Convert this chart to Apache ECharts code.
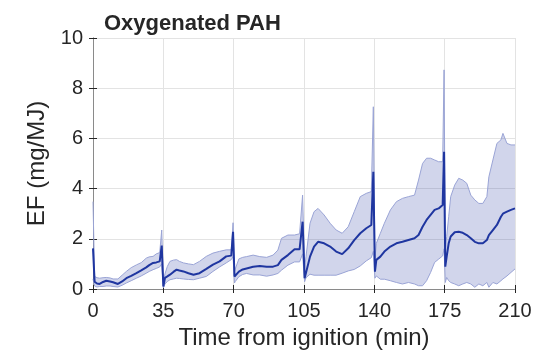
<!DOCTYPE html>
<html>
<head>
<meta charset="utf-8">
<script src="https://cdn.jsdelivr.net/npm/echarts@6/dist/echarts.min.js"></script>
<style>html,body{margin:0;padding:0;background:#fff}#c{width:539px;height:351px}</style>
</head>
<body>
<div id="c"></div>
<script>
// Time from ignition (min)
const time = [0,0.8,2,3.3,5,6.6,8.5,10,12.4,14.5,16.6,19,21.6,24,26.5,28,29.9,31.5,33.2,34.2,35,
  35.8,37,38.3,40,41.6,43,45,47.5,50,53,56.4,59.7,63,66.3,68.8,69.7,70.4,
  70.8,72.6,74.5,76.4,79.7,83,86.4,89.6,92,93.8,97,100.3,102.8,104.3,105.3,
  106,108,110,112,115,118,121,124,127,130,133,136,138.5,139.5,140.3,
  141,143,145,148,151,154,157,160,162,164,166,168,170,172,174,174.7,175.3,
  176,177,178,180,182,184,186,188,190,192,194,196,197,199,201,203,204,206,208,210];
// Mean EF (mg/MJ)
const meanEF = [1.62,0.29,0.22,0.2,0.28,0.33,0.3,0.27,0.2,0.3,0.43,0.52,0.63,0.74,0.86,0.95,1.04,1.06,1.1,1.73,0.1,
  0.44,0.5,0.57,0.68,0.77,0.74,0.7,0.63,0.57,0.63,0.8,0.97,1.1,1.3,1.33,2.28,0.5,
  0.49,0.69,0.78,0.82,0.89,0.92,0.89,0.89,0.95,1.16,1.35,1.58,1.58,2.68,0.43,
  0.65,1.29,1.69,1.88,1.82,1.69,1.49,1.39,1.62,1.95,2.22,2.42,2.55,4.67,0.69,
  1.16,1.29,1.49,1.69,1.82,1.88,1.95,2.02,2.15,2.48,2.75,2.95,3.15,3.21,3.35,5.47,0.89,
  1.29,1.82,2.09,2.26,2.28,2.24,2.15,2.02,1.88,1.82,1.82,1.95,2.15,2.35,2.55,2.88,3.0,3.08,3.15,3.21];
// Lower bound
const lowerEF = [0.4,0.12,0.08,0.1,0.1,0.12,0.12,0.1,0.08,0.15,0.24,0.33,0.43,0.52,0.63,0.7,0.77,0.82,0.88,1.0,0.05,
  0.2,0.3,0.37,0.4,0.43,0.42,0.4,0.38,0.37,0.43,0.5,0.7,0.88,1.04,1.17,1.3,0.24,
  0.3,0.49,0.58,0.62,0.56,0.56,0.51,0.56,0.62,0.75,0.95,1.08,1.08,1.4,0.29,
  0.45,0.59,0.55,0.55,0.55,0.55,0.55,0.63,0.72,0.78,0.92,1.12,1.25,1.5,0.43,
  0.52,0.39,0.39,0.33,0.26,0.2,0.26,0.2,0.13,0.13,0.33,0.66,1.06,1.19,1.32,1.6,0.26,
  0.46,0.33,0.26,0.2,0.13,0.2,0.26,0.2,0.07,0.2,0.13,0.26,0.07,0.26,0.2,0.33,0.4,0.52,0.66,0.8];
// Upper bound
const upperEF = [3.48,0.5,0.45,0.43,0.45,0.46,0.44,0.4,0.4,0.55,0.7,0.85,0.96,1.05,1.23,1.28,1.3,1.4,1.45,2.35,0.25,
  0.6,0.9,1.1,1.15,1.17,1.1,1.04,1.0,0.97,1.1,1.3,1.43,1.5,1.56,1.56,2.64,0.7,
  0.8,1.2,1.26,1.29,1.35,1.29,1.26,1.35,1.55,2.02,2.15,2.15,2.2,3.74,0.8,
  1.29,2.62,3.08,3.21,2.95,2.62,2.35,2.22,2.48,3.08,3.68,3.81,3.88,7.26,1.2,
  1.82,2.22,2.62,3.15,3.48,3.61,3.68,3.74,4.34,5.0,5.21,5.21,5.14,5.07,5.07,8.73,1.5,
  2.09,2.88,3.68,4.14,4.41,4.34,4.21,3.74,3.55,3.41,3.41,3.68,4.47,5.14,5.8,5.94,6.2,5.8,5.74,5.74];
const xTicks = [0,35,70,105,140,175,210];
const yTicks = [0,2,4,6,8,10];

const meanPts = time.map((t,i)=>[t, meanEF[i]]);
const bandData = time.map((t,i)=>[t, lowerEF[i], upperEF[i]]);

const font = 'Liberation Sans, Arial, Helvetica, sans-serif';
const chart = echarts.init(document.getElementById('c'), null, {renderer:'canvas'});
const axisCommon = {
  axisLine:{show:true, lineStyle:{color:'#8a8a8a', width:1}},
  axisTick:{show:true, inside:true, length:4, lineStyle:{color:'#262626'}},
};
function renderBand(params, api){
  if (params.dataIndex !== 0) return null;
  const up = bandData.map(d=>api.coord([d[0], d[2]]));
  const lo = bandData.map(d=>api.coord([d[0], d[1]]));
  const poly = up.concat(lo.slice().reverse());
  return {type:'group', children:[
    {type:'polygon', shape:{points:poly}, style:{fill:'rgba(45,65,165,0.22)', stroke:null}},
    {type:'polyline', shape:{points:up}, style:{stroke:'#9aa4d6', lineWidth:1, fill:null}},
    {type:'polyline', shape:{points:lo}, style:{stroke:'#9aa4d6', lineWidth:1, fill:null}}
  ]};
}
chart.setOption({
  animation:false,
  backgroundColor:'#fff',
  title:{text:'Oxygenated PAH', left:99, top:8,
    textStyle:{fontFamily:font, fontSize:22, fontWeight:'bold', color:'#262626'}},
  grid:{left:93, right:24, top:38, bottom:62, containLabel:false, outerBoundsMode:'none'},
  xAxis:[{
    type:'value', min:0, max:210, interval:35,
    name:'Time from ignition (min)', nameLocation:'middle', nameGap:34,
    nameTextStyle:{fontFamily:font, fontSize:24, color:'#262626'},
    ...axisCommon,
    axisLabel:{fontFamily:font, fontSize:20, color:'#262626', margin:12,
      formatter:v=>xTicks.includes(v)?String(v):''},
    splitLine:{show:true, lineStyle:{color:'#e3e3e3', width:1}}
  },{
    type:'value', min:0, max:210, interval:35, position:'top',
    ...axisCommon, axisLabel:{show:false}, splitLine:{show:false}
  }],
  yAxis:[{
    type:'value', min:0, max:10, interval:2,
    name:'EF (mg/MJ)', nameLocation:'middle', nameGap:38,
    nameTextStyle:{fontFamily:font, fontSize:24, color:'#262626'},
    ...axisCommon,
    axisLabel:{fontFamily:font, fontSize:20, color:'#262626', margin:10,
      formatter:v=>yTicks.includes(v)?String(v):''},
    splitLine:{show:true, lineStyle:{color:'#e3e3e3', width:1}}
  },{
    type:'value', min:0, max:10, interval:2, position:'right',
    ...axisCommon, axisLabel:{show:false}, splitLine:{show:false}
  }],
  series:[
    {type:'custom', name:'band', data:bandData, renderItem:renderBand,
      encode:{x:0, y:[1,2]}, z:2, silent:true},
    {type:'line', name:'mean', data:meanPts, symbol:'none',
      lineStyle:{color:'#1f36a0', width:2}, z:3}
  ]
});
</script>
</body>
</html>
